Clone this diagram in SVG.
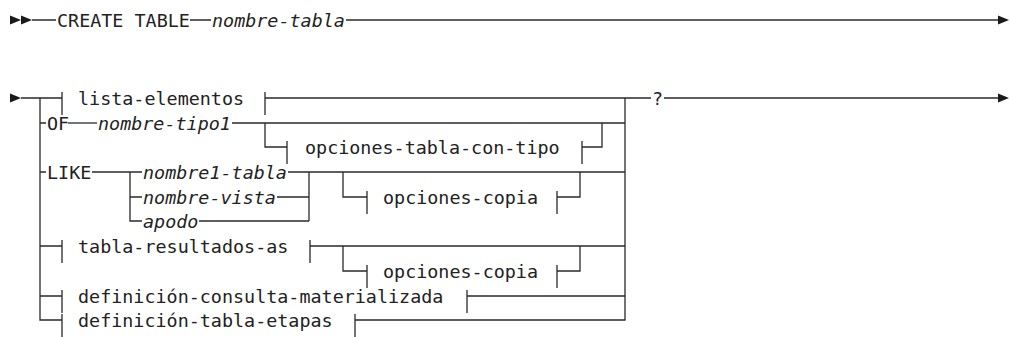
<svg xmlns="http://www.w3.org/2000/svg" width="1010" height="337" viewBox="0 0 1010 337">
<style>
.ln{fill:none;stroke:#2a2a2a;stroke-width:1.3}
.ah{fill:#1a1a1a}
.t{font-family:"DejaVu Sans Mono","Liberation Mono",monospace;font-size:18.4px;fill:#222}
.i{font-style:italic}
</style>
<rect width="1010" height="337" fill="#fff"/>
<g id="connectors">
<polygon class="ah" points="10,15.5 21,20 10,24.5"/>
<polygon class="ah" points="21,15.5 32,20 21,24.5"/>
<path class="ln" d="M32 20H56M190 20H211M346 20H1000"/>
<polygon class="ah" points="998,15.5 1009,20 998,24.5"/>
<polygon class="ah" points="10,93.5 21,98 10,102.5"/>
<path class="ln" d="M21 98H62M265 98H651M664 98H999"/>
<polygon class="ah" points="998,93.5 1009,98 998,102.5"/>
<path class="ln" d="M40 98V320H62M40 123H46M40 172H46M40 246H62M40 296H62"/>
<path class="ln" d="M625 98V320H355M232 123H625M309 172H625M310 246H625M467 296H625"/>
<path class="ln" d="M68 123H97"/>
<path class="ln" d="M265 123V147H287M582 147H602V123"/>
<path class="ln" d="M92 172H142M130 172V221H142M130 197H142M288 172H309M277 197H309M199 221H309M309 172V221"/>
<path class="ln" d="M343 172V197H367M557 197H580V172"/>
<path class="ln" d="M343 246V271H367M557 271H580V246"/>
</g>
<g id="create-table"><text class="t" x="57" y="27">CREATE TABLE</text></g>
<g id="nombre-tabla"><text class="t i" x="212" y="27">nombre-tabla</text></g>
<g id="lista-elementos"><path class="ln" d="M62 92V115M265 92V115"/><text class="t" x="78" y="105">lista-elementos</text></g>
<g id="question"><text class="t" x="652" y="105">?</text></g>
<g id="of"><text class="t" x="47" y="130">OF</text></g>
<g id="nombre-tipo1"><text class="t i" x="98" y="130">nombre-tipo1</text></g>
<g id="opciones-tabla-con-tipo"><path class="ln" d="M287 141V164M582 141V164"/><text class="t" x="305" y="154">opciones-tabla-con-tipo</text></g>
<g id="like"><text class="t" x="47" y="179">LIKE</text></g>
<g id="nombre1-tabla"><text class="t i" x="143" y="179">nombre1-tabla</text></g>
<g id="nombre-vista"><text class="t i" x="143" y="204">nombre-vista</text></g>
<g id="apodo"><text class="t i" x="143" y="228">apodo</text></g>
<g id="opciones-copia-1"><path class="ln" d="M367 191V214M557 191V214"/><text class="t" x="383" y="204">opciones-copia</text></g>
<g id="tabla-resultados-as"><path class="ln" d="M62 240V263M310 240V263"/><text class="t" x="78" y="253">tabla-resultados-as</text></g>
<g id="opciones-copia-2"><path class="ln" d="M367 265V288M557 265V288"/><text class="t" x="383" y="278">opciones-copia</text></g>
<g id="definicion-consulta-materializada"><path class="ln" d="M62 290V313M467 290V313"/><text class="t" x="78" y="303">definición-consulta-materializada</text></g>
<g id="definicion-tabla-etapas"><path class="ln" d="M62 314V337M355 314V337"/><text class="t" x="78" y="327">definición-tabla-etapas</text></g>
</svg>
